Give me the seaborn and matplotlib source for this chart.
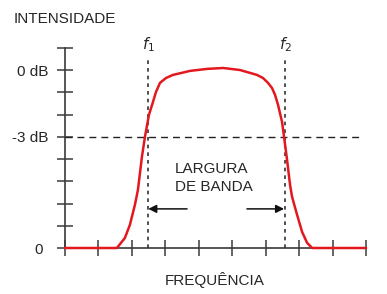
import numpy as np
import pandas as pd
import matplotlib
matplotlib.use("Agg")
import matplotlib.pyplot as plt
import seaborn as sns

# ---- data (x: frequency ticks 0..9, y: intensity ticks 0..9) ----
freq = [0.0, 1.55, 1.79, 1.94, 2.09, 2.18, 2.30, 2.39, 2.51, 2.63, 2.72, 2.84, 3.02,
        3.23, 3.74, 4.25, 4.73, 5.23, 5.74, 5.92, 6.07, 6.19, 6.28, 6.37, 6.49, 6.55,
        6.64, 6.73, 6.79, 6.94, 7.09, 7.24, 7.39, 9.0]
intensity = [0.0, 0.0, 0.45, 1.04, 1.94, 2.61, 4.10, 5.00, 5.99, 6.57, 7.02, 7.43, 7.65,
             7.79, 7.97, 8.06, 8.10, 8.01, 7.79, 7.65, 7.43, 7.20, 6.89, 6.44, 5.67, 5.00,
             3.96, 2.83, 2.30, 1.49, 0.72, 0.23, 0.0, 0.0]

x_ticks = list(range(10))
y_ticks = list(range(10))
y_tick_labels = {0: "0 ", 5: "-3 dB", 8: "0 dB"}
level_3db = 5.0
f1, f2 = 2.47, 6.57
arrow_y = 1.76
arrow_left = (3.65, 2.49)
arrow_right = (5.44, 6.55)

df = pd.DataFrame({"freq": freq, "intensity": intensity})

sns.set_style("white")
plt.rcParams["font.family"] = ["Liberation Sans", "DejaVu Sans"]

W, H = 387, 294
fig = plt.figure(figsize=(W / 100, H / 100), dpi=100)
ax = fig.add_axes([65 / W, (H - 248) / H, 301 / W, 200 / H])

text_c = "#262626"
axis_c = "#3a3a3a"

sns.lineplot(data=df, x="freq", y="intensity", ax=ax, color="#e3181f", lw=1.8,
             sort=False, clip_on=False, zorder=5)

ax.set_xlim(0, 9)
ax.set_ylim(0, 9)
for s in ["top", "right"]:
    ax.spines[s].set_visible(False)
for s in ["left", "bottom"]:
    ax.spines[s].set_color(axis_c)
    ax.spines[s].set_linewidth(1.2)

ax.set_xticks(x_ticks)
ax.set_xticklabels([])
ax.set_yticks(y_ticks)
ax.set_yticklabels([y_tick_labels.get(t, "") for t in y_ticks])
ax.tick_params(axis="both", direction="inout", length=11, width=1.1, color=axis_c,
               labelsize=11, labelcolor=text_c, pad=6.6, bottom=True, left=True)
ax.set_xlabel("")
ax.set_ylabel("")

# -3 dB dashed line
ax.plot([0, 8.88], [level_3db, level_3db], color="#222222", lw=1.0,
        dashes=(5, 3.6), clip_on=False, zorder=3)
# f1 / f2 dotted lines
for fx in (f1, f2):
    ax.plot([fx, fx], [0, 8.46], color="#333333", lw=1.2, dashes=(2.2, 2.4),
            clip_on=False, zorder=3)
ax.text(f1 + 0.03, 9.14, r"$\mathit{f}_{1}$", ha="center", va="center", fontsize=11,
        color=text_c)
ax.text(f2 + 0.03, 9.14, r"$\mathit{f}_{2}$", ha="center", va="center", fontsize=11,
        color=text_c)

# arrows
for (x0, x1) in (arrow_left, arrow_right):
    ax.annotate("", xy=(x1, arrow_y), xytext=(x0, arrow_y),
                arrowprops=dict(arrowstyle="-|>", color="#111111", lw=1.1,
                                mutation_scale=12, shrinkA=0, shrinkB=0))

ax.text(3.29, 3.15, "LARGURA\nDE BANDA", ha="left", va="center", fontsize=11,
        color=text_c, linespacing=1.3)
ax.text(4.49, -1.44, "FREQUÊNCIA", ha="center", va="center", fontsize=11,
        color=text_c, clip_on=False)
ax.text(-1.525, 10.31, "INTENSIDADE", ha="left", va="center", fontsize=11,
        color=text_c, clip_on=False)

fig.savefig("out.png", dpi=100, facecolor="white")
